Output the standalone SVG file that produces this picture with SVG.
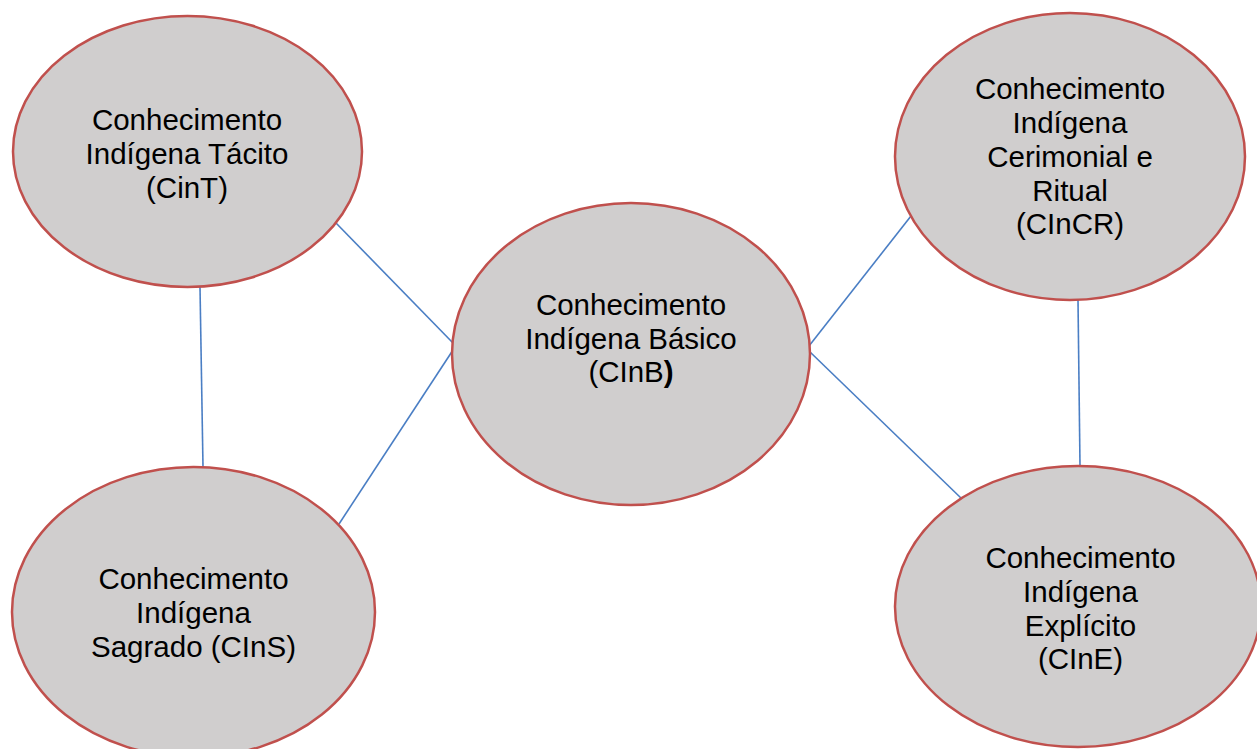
<svg xmlns="http://www.w3.org/2000/svg" width="1257" height="749" viewBox="0 0 1257 749">
  <style>
    .node { fill: #D0CECE; stroke: #C0504D; stroke-width: 2.5; }
    .link { stroke: #4A7EC4; stroke-width: 1.6; fill: none; }
    .label { font-family: "Liberation Sans", Arial, sans-serif; font-size: 29.5px; fill: #000; text-anchor: middle; }
  </style>
  <rect width="1257" height="749" fill="#FFFFFF"/>

  <!-- connectors -->
  <g id="connectors">
    <line class="link" x1="200" y1="287" x2="203" y2="467"/>
    <line class="link" x1="336" y1="223" x2="453" y2="343"/>
    <line class="link" x1="339" y1="524" x2="453" y2="350"/>
    <line class="link" x1="809" y1="346" x2="911" y2="216"/>
    <line class="link" x1="809" y1="351" x2="962" y2="499"/>
    <line class="link" x1="1078" y1="300" x2="1080" y2="466"/>
  </g>

  <g id="node-cint">
    <ellipse class="node" cx="187.5" cy="151.5" rx="174.5" ry="135.5"/>
    <text class="label" x="187" y="129.5">Conhecimento</text>
    <text class="label" x="187" y="163.5">Indígena Tácito</text>
    <text class="label" x="187" y="197.5">(CinT)</text>
  </g>

  <g id="node-cinb">
    <ellipse class="node" cx="631" cy="354" rx="179" ry="151"/>
    <text class="label" x="631" y="315">Conhecimento</text>
    <text class="label" x="631" y="348.5">Indígena Básico</text>
    <text class="label" x="631" y="382">(CInB<tspan font-weight="bold">)</tspan></text>
  </g>

  <g id="node-cincr">
    <ellipse class="node" cx="1070" cy="156.5" rx="175" ry="143.5"/>
    <text class="label" x="1070" y="99">Conhecimento</text>
    <text class="label" x="1070" y="133">Indígena</text>
    <text class="label" x="1070" y="167">Cerimonial e</text>
    <text class="label" x="1070" y="201">Ritual</text>
    <text class="label" x="1070" y="234">(CInCR)</text>
  </g>

  <g id="node-cins">
    <ellipse class="node" cx="193.5" cy="612" rx="181.5" ry="145"/>
    <text class="label" x="193.5" y="588.5">Conhecimento</text>
    <text class="label" x="193.5" y="622.5">Indígena</text>
    <text class="label" x="193.5" y="656.5">Sagrado (CInS)</text>
  </g>

  <g id="node-cine">
    <ellipse class="node" cx="1078" cy="606.5" rx="183" ry="140.5"/>
    <text class="label" x="1080.5" y="568">Conhecimento</text>
    <text class="label" x="1080.5" y="602">Indígena</text>
    <text class="label" x="1080.5" y="636">Explícito</text>
    <text class="label" x="1080.5" y="669">(CInE)</text>
  </g>
</svg>
